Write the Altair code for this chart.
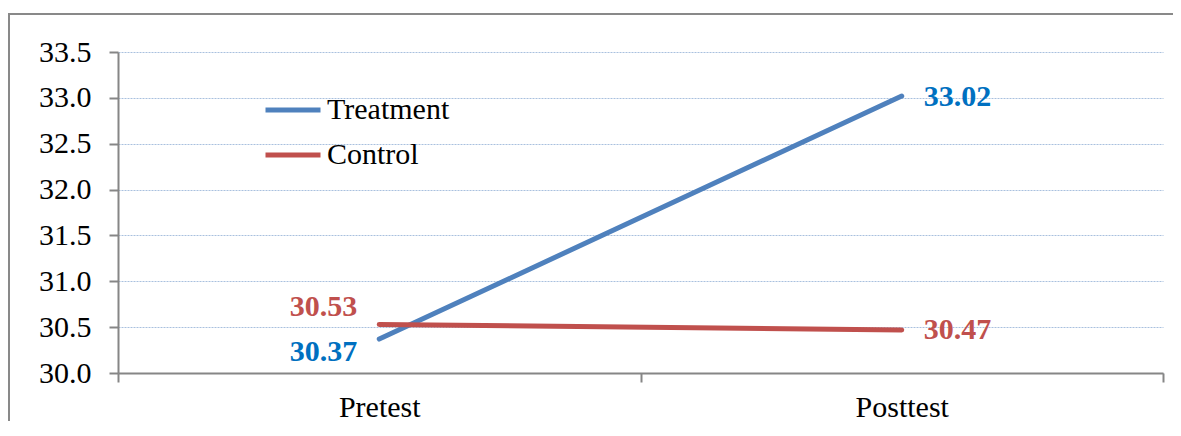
import altair as alt
import pandas as pd

phases = ["Pretest", "Posttest"]
groups = ["Treatment", "Control"]
treatment = [30.37, 33.02]
control = [30.53, 30.47]
y_ticks = [30.0, 30.5, 31.0, 31.5, 32.0, 32.5, 33.0, 33.5]
line_colors = ["#4F81BD", "#C0504D"]
label_colors = ["#0070C0", "#C0504D"]

rows = []
for g, vals in zip(groups, [treatment, control]):
    for i, (p, v) in enumerate(zip(phases, vals)):
        rows.append({"group": g, "phase": p, "pos": i + 0.5, "value": v,
                     "label": f"{v:.2f}"})
df = pd.DataFrame(rows)

FONT = "Liberation Serif"
W, H = 1045, 321

label_expr = (f"datum.value == 0.5 ? '{phases[0]}' : "
              f"datum.value == 1.5 ? '{phases[1]}' : ''")

x_enc = alt.X(
    "pos:Q",
    scale=alt.Scale(domain=[0, 2], nice=False, zero=False),
    axis=alt.Axis(
        values=[0, 0.5, 1, 1.5, 2],
        labelExpr=label_expr,
        tickOpacity={"condition": {"test": "datum.value % 1 === 0", "value": 1}, "value": 0},
        grid=False,
        title=None,
        labelOverlap=False,
        labelPadding=10,
        labelFlush=False,
        labelFont=FONT,
    ),
)
y_enc = alt.Y(
    "value:Q",
    scale=alt.Scale(domain=[30, 33.5], nice=False, zero=False),
    axis=alt.Axis(
        values=y_ticks,
        format=".1f",
        title=None,
        grid=True,
        gridColor="#A9C0DE",
        gridDash=[2, 1],
        gridWidth=1,
        labelPadding=18,
        labelFont=FONT,
    ),
)

lines = alt.Chart(df).mark_line(strokeWidth=5, strokeCap="round").encode(
    x=x_enc,
    y=y_enc,
    color=alt.Color(
        "group:N",
        scale=alt.Scale(domain=groups, range=line_colors),
        legend=alt.Legend(
            title=None,
            orient="none",
            legendX=145,
            legendY=28,
            symbolType="stroke",
            symbolSize=3025,
            symbolStrokeWidth=5,
            labelFont=FONT,
            labelFontSize=30,
            labelColor="black",
            labelOffset=4,
            rowPadding=0,
            padding=0,
        ),
    ),
    detail="group:N",
)


def text_layer(group, phase, align, dx, dy, color):
    return (
        alt.Chart(df)
        .transform_filter((alt.datum.group == group) & (alt.datum.phase == phase))
        .mark_text(align=align, baseline="middle", dx=dx, dy=dy, font=FONT,
                   fontSize=30, fontWeight="bold", color=color)
        .encode(x="pos:Q", y="value:Q", text="label:N")
    )


texts = [
    text_layer(groups[0], phases[0], "right", -22, 13, label_colors[0]),
    text_layer(groups[1], phases[0], "right", -22, -17, label_colors[1]),
    text_layer(groups[0], phases[1], "left", 22, 1, label_colors[0]),
    text_layer(groups[1], phases[1], "left", 22, 0, label_colors[1]),
]

frame_df = pd.DataFrame({"a": [0]})
frame_left = alt.Chart(frame_df).mark_rule(color="#898989", strokeWidth=2).encode(
    x=alt.value(-109), x2=alt.value(-109), y=alt.value(-38), y2=alt.value(H + 48)
)
frame_top = alt.Chart(frame_df).mark_rule(color="#898989", strokeWidth=2).encode(
    x=alt.value(-110), x2=alt.value(W + 10), y=alt.value(-38), y2=alt.value(-38)
)

chart = (
    alt.layer(frame_left, frame_top, lines, *texts)
    .properties(
        width=W,
        height=H,
        autosize=alt.AutoSizeParams(type="none"),
        padding={"left": 110, "top": 44, "right": 10, "bottom": 48},
    )
    .configure_view(stroke=None)
    .configure_axis(
        domainColor="#868686",
        domainWidth=2,
        tickColor="#868686",
        tickWidth=2,
        tickSize=9,
        labelFont=FONT,
        labelFontSize=30,
        labelColor="black",
    )
)

chart.save("out.html", embed_options={"renderer": "svg", "actions": False})
